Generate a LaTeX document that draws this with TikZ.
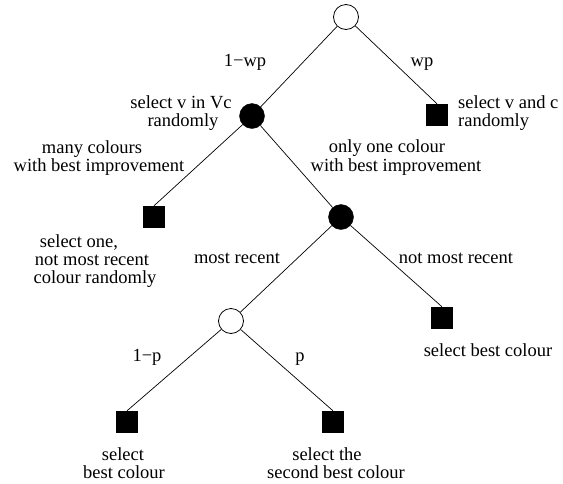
\documentclass[tikz,border=0pt]{standalone}
\usepackage{fontspec}
\setmainfont{Liberation Serif}
\begin{document}
\begin{tikzpicture}[x=1pt,y=-1pt,
  chance/.style={circle,draw=black,line width=0.8pt,fill=white,minimum size=25pt,inner sep=0pt},
  decide/.style={circle,draw=black,fill=black,minimum size=25pt,inner sep=0pt},
  leaf/.style={rectangle,fill=black,minimum size=22pt,inner sep=0pt},
  lbl/.style={font=\fontsize{18.5}{18.5}\selectfont,anchor=base,inner sep=0pt},
  lblw/.style={lbl,anchor=base west},
  branch/.style={line width=0.7pt}]
\useasboundingbox (0,0) rectangle (563,483);
% nodes
\node[chance] (root) at (346,17) {};
\node[decide] (A) at (252,116) {};
\node[leaf] (S1) at (437,115) {};
\node[leaf] (B) at (154,217) {};
\node[decide] (C) at (341,217) {};
\node[leaf] (D) at (442,318) {};
\node[chance] (E) at (231,321) {};
\node[leaf] (F) at (127,422) {};
\node[leaf] (G) at (333,422) {};
% connectors
\draw[branch] (root) -- (A);
\draw[branch] (root) -- (S1.north);
\draw[branch] (A) -- (B.north);
\draw[branch] (A) -- (C);
\draw[branch] (C) -- (E);
\draw[branch] (C) -- (D.north);
\draw[branch] (E) -- (F.north);
\draw[branch] (E) -- (G.north);
% labels
\node[lbl] (l1) at (245,66) {1−wp};
\node[lbl] (l2) at (422,66) {wp};
\node[lbl] (l3a) at (181,108) {select v in Vc};
\node[lbl] (l3b) at (183,126) {randomly};
\node[lblw] (l4a) at (458,108) {select v and c};
\node[lblw] (l4b) at (458,126) {randomly};
\node[lbl] (l5a) at (92,153) {many colours};
\node[lbl] (l5b) at (99,171) {with best improvement};
\node[lbl] (l6a) at (387,152) {only one colour};
\node[lbl] (l6b) at (396,171) {with best improvement};
\node[lbl] (l7a) at (79,247) {select one,};
\node[lbl] (l7b) at (92,265) {not most recent};
\node[lbl] (l7c) at (95,283) {colour randomly};
\node[lbl] (l8) at (237,263) {most recent};
\node[lbl] (l9) at (456,263) {not most recent};
\node[lbl] (l10) at (488,356) {select best colour};
\node[lbl] (l11) at (147,361) {1−p};
\node[lbl] (l12) at (300,361) {p};
\node[lbl] (l13a) at (123,460) {select};
\node[lbl] (l13b) at (124,478) {best colour};
\node[lbl] (l14a) at (327,460) {select the};
\node[lbl] (l14b) at (336,478) {second best colour};
\end{tikzpicture}
\end{document}
